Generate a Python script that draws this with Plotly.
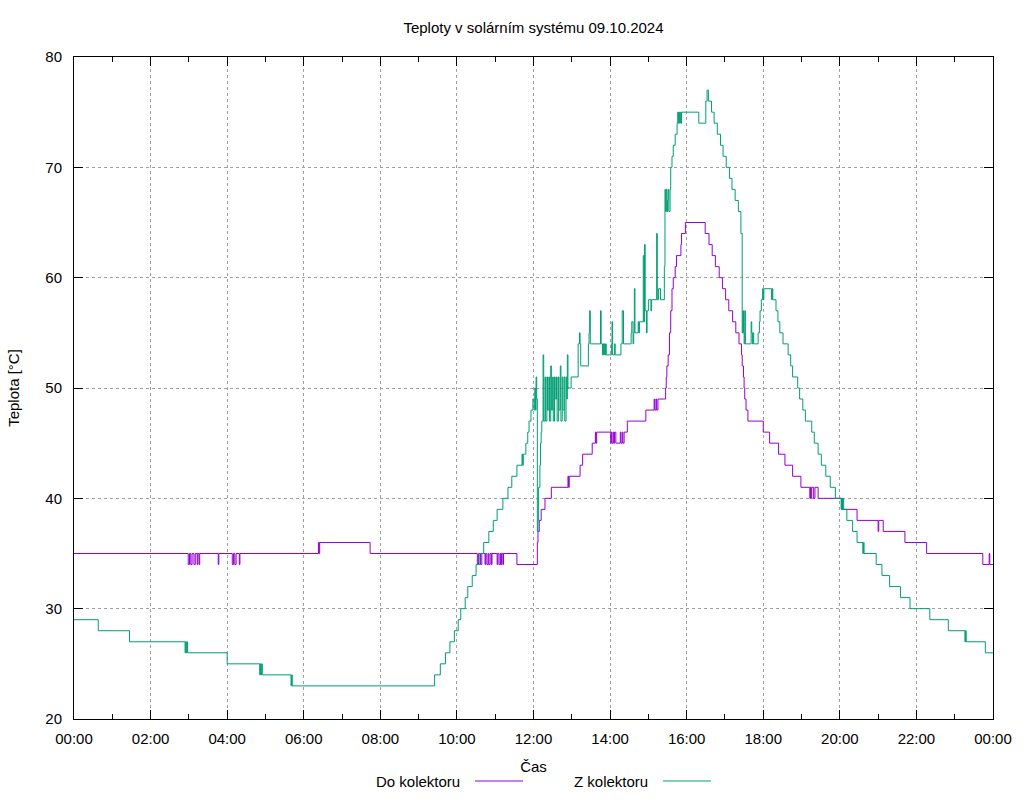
import datetime as dt
import plotly.graph_objects as go

# ---------------- data ----------------
do_times = ["00:00", "02:59", "03:01", "03:03", "03:05", "03:08", "03:10", "03:13", "03:14", "03:16", "03:17",
            "03:46", "03:47", "04:08", "04:10", "04:12", "04:14", "04:19", "04:20",
            "06:23", "06:24", "06:25", "07:44",
            "10:32", "10:34", "10:37", "10:39", "10:44", "10:45", "10:47", "10:49", "10:50", "10:52", "10:54", "10:55",
            "11:03", "11:04", "11:06", "11:08", "11:09", "11:10", "11:12", "11:13", "11:34",
            "12:06", "12:07", "12:09", "12:12", "12:18", "12:28", "12:54", "12:55", "12:56",
            "13:13", "13:17", "13:32", "13:37", "13:38", "13:39",
            "14:01", "14:02", "14:03", "14:05", "14:06", "14:07", "14:09", "14:16", "14:17", "14:19", "14:20", "14:22",
            "14:27", "14:56", "15:09", "15:10", "15:12", "15:13", "15:15",
            "15:27", "15:28", "15:29", "15:31", "15:33", "15:35", "15:37", "15:39", "15:42", "15:44", "15:51", "15:52", "15:58",
            "16:29", "16:35", "16:40", "16:45", "16:51", "16:56", "17:01", "17:06", "17:12", "17:17", "17:22",
            "17:26", "17:27", "17:29", "17:30", "17:31", "17:33", "17:36",
            "18:00", "18:10", "18:24", "18:34", "18:46", "18:59",
            "19:13", "19:14", "19:15", "19:16", "19:19", "19:21", "19:26",
            "20:03", "20:27", "21:00", "21:01", "21:08", "21:42", "22:16", "23:44", "23:54", "23:55", "24:00"]
do_vals = [35, 34, 35, 34, 35, 34, 35, 34, 35, 34, 35,
           34, 35, 34, 35, 34, 35, 34, 35,
           36, 35, 36, 35,
           34, 35, 34, 35, 34, 35, 34, 35, 34, 35, 34, 35,
           34, 35, 34, 35, 34, 35, 34, 35, 34,
           36, 37, 38, 39, 40, 41, 42, 41, 42,
           43, 44, 45, 46, 45, 46,
           45, 46, 45, 46, 45, 46, 45, 46, 45, 46, 45, 46,
           47, 48, 49, 48, 49, 48, 49,
           50, 51, 52, 53, 55, 57, 59, 60, 61, 62, 63, 64, 65,
           64, 63, 62, 61, 60, 59, 58, 57, 56, 55, 54,
           53, 52, 51, 50, 49, 48, 47,
           46, 45, 44, 43, 42, 41,
           40, 41, 40, 41, 40, 41, 40,
           39, 38, 37, 38, 37, 36, 35, 34, 35, 34, 34]

z_times = ["00:00", "00:38", "01:27", "02:54", "02:55", "02:56", "02:57", "02:58", "04:00",
           "04:51", "04:52", "04:53", "04:54", "04:55", "05:40", "05:41", "05:42",
           "09:25", "09:34", "09:42", "09:49", "09:56", "10:02", "10:06", "10:13", "10:17", "10:24", "10:30",
           "10:36", "10:42", "10:50", "10:57", "11:03", "11:12", "11:20", "11:26", "11:34",
           "11:42", "11:43", "11:44", "11:48", "11:51", "11:53", "11:56", "11:59",
           "12:01", "12:02", "12:03", "12:04", "12:05", "12:06", "12:07", "12:08", "12:10", "12:11", "12:12", "12:13",
           "12:14", "12:15", "12:16", "12:18", "12:19", "12:21", "12:22", "12:24", "12:25", "12:27",
           "12:28", "12:30", "12:31", "12:33", "12:34", "12:36", "12:37", "12:39", "12:40", "12:42",
           "12:43", "12:45", "12:46", "12:48", "12:49", "12:51", "12:52", "12:53", "12:54",
           "12:59", "13:10", "13:12", "13:13", "13:14", "13:26", "13:27", "13:28", "13:29", "13:45", "13:46",
           "13:48", "13:49", "13:50", "13:51", "13:52", "13:53", "13:54", "14:02", "14:03", "14:04", "14:07",
           "14:08", "14:17", "14:19", "14:21", "14:33", "14:34", "14:36", "14:37", "14:38", "14:39", "14:44",
           "14:45", "14:46", "14:52", "14:53", "14:54", "14:55", "14:57", "14:58", "15:00", "15:04", "15:05",
           "15:13", "15:14", "15:16", "15:19", "15:25", "15:26", "15:27", "15:28", "15:29", "15:30", "15:31",
           "15:32", "15:34", "15:35", "15:37", "15:39", "15:42", "15:45", "15:46", "15:47", "15:48", "15:49",
           "15:50", "15:51", "15:52", "16:19", "16:30", "16:32", "16:34", "16:39", "16:43", "16:48", "16:53",
           "16:57", "17:02", "17:07", "17:11", "17:16", "17:21", "17:25", "17:27", "17:28", "17:29", "17:30",
           "17:31", "17:32", "17:41", "17:42", "17:43", "17:44", "17:45", "17:52", "17:54", "17:55", "17:57",
           "17:59", "18:00", "18:01", "18:13", "18:14", "18:15", "18:20", "18:23", "18:26", "18:31", "18:39",
           "18:43", "18:46", "18:54", "18:57", "19:02", "19:06", "19:16", "19:20", "19:26", "19:31", "19:38",
           "19:45", "19:53", "20:02", "20:03", "20:04", "20:05", "20:06", "20:11", "20:20", "20:27", "20:36",
           "20:37", "20:38", "20:57", "21:06", "21:18", "21:35", "21:50", "22:21", "22:50", "23:16", "23:17",
           "23:18", "23:48", "24:00"]
z_vals = [29, 28, 27, 26, 27, 26, 27, 26, 25,
          24, 25, 24, 25, 24, 23, 24, 23,
          24, 25, 26, 27, 28, 29, 30, 31, 32, 33, 34,
          35, 36, 37, 38, 39, 40, 41, 42, 43,
          44, 43, 44, 45, 46, 47, 48, 49,
          48, 50, 48, 51, 49, 37, 38, 41, 43, 45, 46, 47,
          47, 53, 47, 51, 47, 51, 48, 51, 47, 52,
          48, 51, 47, 51, 49, 51, 47, 51, 48, 52,
          47, 51, 48, 51, 47, 51, 49, 53, 50,
          51, 54, 55, 54, 52, 54, 55, 57, 54, 57, 54,
          53, 54, 53, 54, 53, 54, 53, 54, 56, 53, 54,
          53, 54, 57, 54, 55, 56, 54, 55, 59, 55, 56,
          55, 56, 62, 56, 63, 57, 55, 57, 58, 57, 58,
          64, 58, 59, 58, 61, 68, 66, 68, 66, 67, 68,
          66, 68, 70, 71, 72, 73, 74, 75, 74, 75, 74,
          75, 74, 75, 74, 76, 77, 76, 75, 74, 73, 72,
          71, 70, 69, 68, 67, 66, 64, 55, 57, 55, 54,
          57, 54, 56, 55, 54, 55, 54, 55, 56, 57, 58,
          59, 58, 59, 58, 59, 58, 57, 56, 55, 54, 53,
          52, 51, 50, 49, 48, 47, 46, 45, 44, 43, 42,
          41, 40, 39, 40, 39, 40, 39, 38, 37, 36, 35,
          36, 35, 34, 33, 32, 31, 30, 29, 28, 27, 28,
          27, 26, 26]

assert len(do_times) == len(do_vals)
assert len(z_times) == len(z_vals)

series_names = ["Do kolektoru", "Z kolektoru"]
series_colors = ["#9400D3", "#009E73"]
y_ticks = [20, 30, 40, 50, 60, 70, 80]

BASE = dt.datetime(2024, 10, 9)


def to_dt(s):
    h, m = s.split(":")
    return BASE + dt.timedelta(hours=int(h), minutes=int(m))


FONT = "Liberation Sans, Arial, sans-serif"

fig = go.Figure()
for name, col, tt, vv in [(series_names[0], series_colors[0], do_times, do_vals),
                          (series_names[1], series_colors[1], z_times, z_vals)]:
    fig.add_trace(go.Scatter(x=[to_dt(t) for t in tt], y=vv, mode="lines", name=name,
                             line=dict(color=col, width=1, shape="hv"), showlegend=False))

L, R, T, B = 74, 993, 57, 719
W, H = 1024, 800
PW, PH = R - L, B - T

fig.update_layout(
    width=W, height=H,
    margin=dict(l=L, r=W - R, t=T, b=H - B, pad=0),
    paper_bgcolor="white", plot_bgcolor="white",
    font=dict(family=FONT, size=15, color="black"),
    title=dict(text="Teploty v solárním systému 09.10.2024", x=(533.5) / W, xanchor="center",
               y=1 - 28 / H, yanchor="middle", font=dict(size=15)),
)

fig.update_xaxes(
    type="date",
    range=[BASE, BASE + dt.timedelta(days=1)],
    tick0=BASE, dtick=7200000, tickformat="%H:%M",
    ticks="inside", ticklen=9, tickwidth=1, tickcolor="black",
    minor=dict(ticks="inside", ticklen=5, dtick=3600000, tickcolor="black", showgrid=False),
    showline=True, linecolor="black", linewidth=1, mirror="ticks",
    showgrid=True, gridcolor="#a0a0a0", griddash="dot", gridwidth=1,
    zeroline=False, ticklabelstandoff=6,
    title=dict(text="Čas", standoff=15, font=dict(size=15)),
    tickfont=dict(size=15),
)
fig.update_yaxes(
    range=[20, 80], tickvals=y_ticks,
    ticks="inside", ticklen=9, tickwidth=1, tickcolor="black",
    showline=True, linecolor="black", linewidth=1, mirror="ticks",
    showgrid=True, gridcolor="#a0a0a0", griddash="dot", gridwidth=1,
    zeroline=False, ticklabelstandoff=8,
    title=dict(text="Teplota [°C]", standoff=22, font=dict(size=15)),
    tickfont=dict(size=15),
)

# gnuplot-style legend below the x axis label: text then line sample
leg_y = 781
legend_items = [(series_names[0], series_colors[0], 462, 475, 523),
                (series_names[1], series_colors[1], 650, 663, 711)]
for name, col, tx, x0, x1 in legend_items:
    fig.add_annotation(text=name, xref="paper", yref="paper",
                       x=(tx - L) / PW, y=(B - leg_y) / PH, xanchor="right", yanchor="middle",
                       showarrow=False, font=dict(size=15))
    fig.add_shape(type="line", xref="paper", yref="paper",
                  x0=(x0 - L) / PW, x1=(x1 - L) / PW, y0=(B - leg_y) / PH, y1=(B - leg_y) / PH,
                  line=dict(color=col, width=1))

fig.write_html("out.html")
